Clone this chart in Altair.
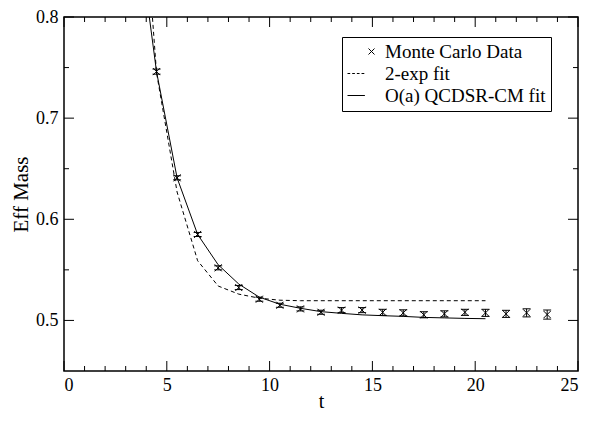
import altair as alt
import pandas as pd

# Monte Carlo effective-mass data
t_data = [4.5, 5.5, 6.5, 7.5, 8.5, 9.5, 10.5, 11.5, 12.5, 13.5,
          14.5, 15.5, 16.5, 17.5, 18.5, 19.5, 20.5, 21.5, 22.5, 23.5]
m_data = [0.746, 0.641, 0.585, 0.552, 0.5325, 0.521, 0.515, 0.5114, 0.5081, 0.5102,
          0.5102, 0.508, 0.5075, 0.5056, 0.5065, 0.508, 0.5075, 0.5065, 0.5075, 0.5058]
m_err = [0.0025, 0.002, 0.002, 0.002, 0.002, 0.002, 0.002, 0.002, 0.002, 0.0025,
         0.0025, 0.003, 0.003, 0.003, 0.003, 0.003, 0.0035, 0.0035, 0.004, 0.0045]

# fit curves
fit_t = [3.5, 4.5, 5.5, 6.5, 7.5, 8.5, 9.5, 10.5, 11.5, 12.5,
         13.5, 14.5, 15.5, 16.5, 17.5, 18.5, 19.5, 20.5]
exp2_fit = [1.02, 0.745, 0.627, 0.559, 0.534, 0.526, 0.522, 0.520, 0.5195, 0.5195,
            0.5195, 0.5195, 0.5195, 0.5195, 0.5195, 0.5195, 0.5195, 0.5195]
qcdsr_fit = [0.90, 0.746, 0.641, 0.585, 0.555, 0.536, 0.523, 0.516, 0.512, 0.5087,
             0.507, 0.5055, 0.5047, 0.504, 0.503, 0.5025, 0.502, 0.5017]

# axis ticks
x_major = [0, 5, 10, 15, 20, 25]
x_minor = [1, 2, 3, 4, 6, 7, 8, 9, 11, 12, 13, 14, 16, 17, 18, 19, 21, 22, 23, 24]
y_major = [0.5, 0.6, 0.7, 0.8]
y_minor = [0.55, 0.65, 0.75]

series_labels = ["Monte Carlo Data", "2-exp fit", "O(a) QCDSR-CM fit"]

W, H = 514, 354
FONT = "Liberation Serif"

data_df = pd.DataFrame({"t": t_data, "m": m_data,
                        "lo": [m - e for m, e in zip(m_data, m_err)],
                        "hi": [m + e for m, e in zip(m_data, m_err)]})
exp_df = pd.DataFrame({"t": fit_t, "m": exp2_fit})
qcd_df = pd.DataFrame({"t": fit_t, "m": qcdsr_fit})
leg_df = pd.DataFrame({"series": series_labels})

xscale = alt.Scale(domain=[0, 25], nice=False, zero=False)
yscale = alt.Scale(domain=[0.45, 0.8], nice=False, zero=False)
xaxis = alt.Axis(values=x_major, ticks=False, domain=False, grid=False,
                 labelFont=FONT, labelFontSize=18, labelPadding=5, labelColor="black",
                 titleFont=FONT, titleFontSize=20, titleFontWeight="normal",
                 titlePadding=-3, titleColor="black")
yaxis = alt.Axis(values=y_major, format=".1f", ticks=False, domain=False, grid=False,
                 labelFont=FONT, labelFontSize=18, labelPadding=6, labelColor="black",
                 titleFont=FONT, titleFontSize=21, titleFontWeight="normal",
                 titlePadding=4, titleColor="black")


def X(field):
    return alt.X(field + ":Q", scale=xscale, axis=xaxis, title="t")


def Y(field):
    return alt.Y(field + ":Q", scale=yscale, axis=yaxis, title="Eff Mass")


x_path = "M-1,-1L1,1M-1,1L1,-1"

points = alt.Chart(data_df).mark_point(
    shape=x_path, size=49, filled=False, color="black", strokeWidth=1, opacity=1
).encode(x=X("t"), y=Y("m"))

err_rule = alt.Chart(data_df).mark_rule(color="black", strokeWidth=1).encode(
    x=X("t"), y=Y("lo"), y2="hi")
cap_lo = alt.Chart(data_df).mark_tick(orient="horizontal", size=8, thickness=1,
                                      color="black", opacity=1).encode(x=X("t"), y=Y("lo"))
cap_hi = alt.Chart(data_df).mark_tick(orient="horizontal", size=8, thickness=1,
                                      color="black", opacity=1).encode(x=X("t"), y=Y("hi"))

exp_line = alt.Chart(exp_df).mark_line(color="black", strokeWidth=1, strokeDash=[4, 3],
                                       clip=True).encode(x=X("t"), y=Y("m"))
qcd_line = alt.Chart(qcd_df).mark_line(color="black", strokeWidth=1,
                                       clip=True).encode(x=X("t"), y=Y("m"))

# legend symbols (unit = 6 px)
leg_x = "M2.0,-0.5L3.0,0.5M2.0,0.5L3.0,-0.5"
leg_dash = "M-1.5,0L-1.05,0M-0.72,0L-0.27,0M0.06,0L0.51,0M0.84,0L1.3,0"
leg_solid = "M-1.5,0L1.4,0"

legend_layer = alt.Chart(leg_df).mark_point(filled=False, color="black", opacity=0).encode(
    shape=alt.Shape("series:N",
                    scale=alt.Scale(domain=series_labels, range=[leg_x, leg_dash, leg_solid]),
                    legend=alt.Legend(orient="none", legendX=278, legendY=20, title=None,
                                      labelFont=FONT, labelFontSize=19, labelColor="black",
                                      labelLimit=500, labelOffset=19,
                                      symbolSize=144, symbolStrokeWidth=1,
                                      symbolStrokeColor="black", symbolOpacity=1,
                                      strokeColor="black", fillColor="white",
                                      padding=5, rowPadding=2))
)


# inward tick marks on all four sides
def xticks(vals, length):
    df = pd.DataFrame({"t": vals})
    bottom = alt.Chart(df).mark_rule(color="black", strokeWidth=1).encode(
        x=X("t"), y=alt.value(H), y2=alt.value(H - length))
    top = alt.Chart(df).mark_rule(color="black", strokeWidth=1).encode(
        x=X("t"), y=alt.value(0), y2=alt.value(length))
    return [bottom, top]


def yticks(vals, length):
    df = pd.DataFrame({"m": vals})
    left = alt.Chart(df).mark_rule(color="black", strokeWidth=1).encode(
        y=Y("m"), x=alt.value(0), x2=alt.value(length))
    right = alt.Chart(df).mark_rule(color="black", strokeWidth=1).encode(
        y=Y("m"), x=alt.value(W), x2=alt.value(W - length))
    return [left, right]


layers = (xticks(x_major, 10) + xticks(x_minor, 5) + yticks(y_major, 10) + yticks(y_minor, 5)
          + [exp_line, qcd_line, err_rule, cap_lo, cap_hi, points, legend_layer])

chart = alt.layer(*layers).properties(
    width=W, height=H,
    autosize=alt.AutoSizeParams(type="none"),
    padding={"left": 56, "top": 9, "right": 10, "bottom": 42},
    background="white",
).configure_view(stroke="black", strokeWidth=1.5)

chart.save("out.html", embed_options={"renderer": "svg", "actions": False})
